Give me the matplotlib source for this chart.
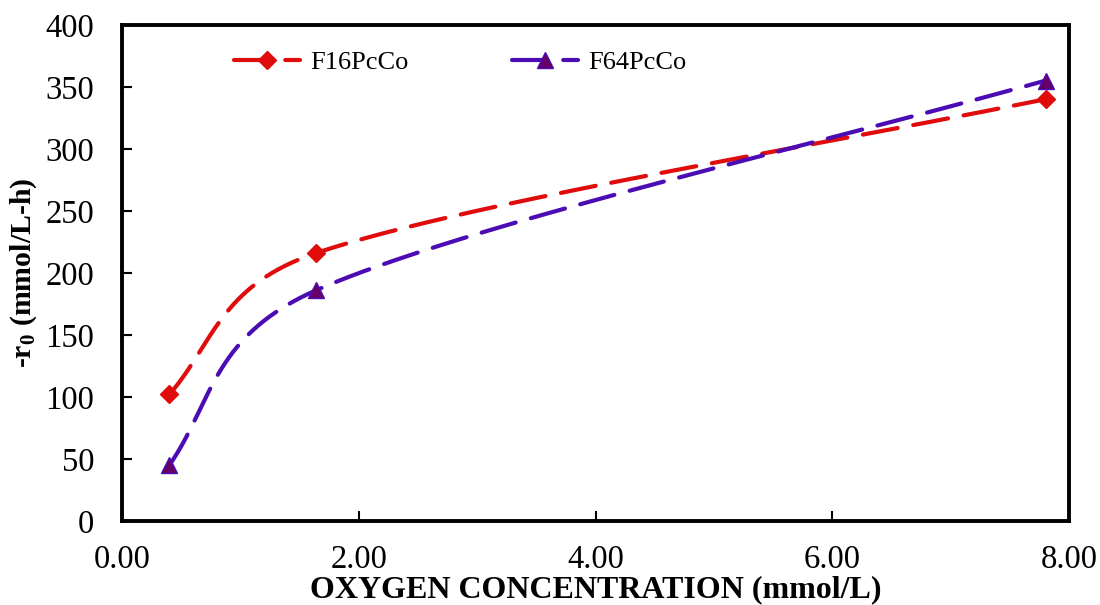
import numpy as np
import matplotlib
matplotlib.use("Agg")
import matplotlib.pyplot as plt

# ---- data ----
oxygen = [0.40, 1.64, 7.80]
f16 = [102, 216, 340]
f64 = [45, 186, 355]
series_names = ["F16PcCo", "F64PcCo"]
x_ticks = [0, 2, 4, 6, 8]
y_ticks = [0, 50, 100, 150, 200, 250, 300, 350, 400]

plt.rcParams['font.family'] = ['Liberation Serif', 'DejaVu Serif']
plt.rcParams['mathtext.fontset'] = 'custom'
plt.rcParams['mathtext.rm'] = 'Liberation Serif'
plt.rcParams['mathtext.bf'] = 'Liberation Serif:bold'
plt.rcParams['mathtext.it'] = 'Liberation Serif:italic'

fig = plt.figure(figsize=(11, 6.05), dpi=100)
ax = fig.add_axes([0.111, 0.139, 0.861, 0.820])
ax.set_xlim(0, 8)
ax.set_ylim(0, 400)


def unit(v):
    return v / np.linalg.norm(v)


def smooth(ax, xs, ys, n=200):
    # Excel-like Bezier smoothing computed in display space
    pts = ax.transData.transform(np.column_stack([xs, ys]))
    N = len(pts)
    arms_out = []
    arms_in = []
    for i in range(N - 1):
        p1, p2 = pts[i], pts[i + 1]
        seg_len = np.linalg.norm(p2 - p1)
        if i > 0:
            a1 = (p2 - pts[i - 1]) / 6.0
            if np.linalg.norm(a1) > seg_len / 2:
                a1 = unit(a1) * seg_len / 2
        else:
            a1 = None
        if i + 2 < N:
            a2 = (pts[i + 2] - p1) / 6.0
            if np.linalg.norm(a2) > seg_len / 2:
                a2 = unit(a2) * seg_len / 2
        else:
            a2 = None
        if a1 is None:
            b2 = p2 - a2 if a2 is not None else p2 - (p2 - p1) / 3
            d = unit(0.75 * unit(p2 - p1) + 0.25 * unit(b2 - p1))
            a1 = d * seg_len / 3
        if a2 is None:
            b1 = p1 + a1
            d = unit(0.75 * unit(p2 - p1) + 0.25 * unit(p2 - b1))
            a2 = d * seg_len / 3
        arms_out.append(a1)
        arms_in.append(a2)
    out = []
    t = np.linspace(0, 1, n)[:, None]
    for i in range(N - 1):
        p1, p2 = pts[i], pts[i + 1]
        b1 = p1 + arms_out[i]
        b2 = p2 - arms_in[i]
        seg = ((1 - t) ** 3) * p1 + 3 * ((1 - t) ** 2) * t * b1 + 3 * (1 - t) * t ** 2 * b2 + t ** 3 * p2
        out.append(seg if i == 0 else seg[1:])
    out = np.vstack(out)
    return ax.transData.inverted().transform(out)

red = '#E00B0B'
purple = '#4B0CB4'
tri_face = '#660066'

fig.canvas.draw()
for ys, col, mk, mface, mec, ms, name in [
        (f16, red, 'D', red, red, 9, series_names[0]),
        (f64, purple, '^', tri_face, purple, 11, series_names[1])]:
    curve = smooth(ax, oxygen, ys)
    ax.plot(curve[:, 0], curve[:, 1], color=col, lw=3.0, dashes=(8.5, 3.8),
            dash_capstyle='round', solid_capstyle='round', zorder=3)
    ax.plot(oxygen, ys, linestyle='none', marker=mk, markersize=ms,
            markerfacecolor=mface, markeredgecolor=mec, zorder=4)
    ax.plot([], [], color=col, lw=3.0, dashes=(8.5, 3.8), dash_capstyle='round',
            marker=mk, markersize=ms, markerfacecolor=mface, markeredgecolor=mec,
            label=name)

ax.set_xticks(x_ticks)
ax.set_xticklabels([f"{v:.2f}" for v in x_ticks])
ax.set_yticks(y_ticks)
ax.set_yticklabels([str(v) for v in y_ticks])
ax.tick_params(axis='both', direction='in', length=7, width=1.5, labelsize=23.5)
ax.tick_params(axis='y', pad=20)
ax.tick_params(axis='x', pad=17)
for s in ax.spines.values():
    s.set_linewidth(2.8)

ax.set_xlabel("OXYGEN CONCENTRATION (mmol/L)", fontsize=23, fontweight='bold', labelpad=0)
ax.set_ylabel(r"-r$_\mathbf{0}$ (mmol/L-h)", fontsize=21.5, fontweight='bold', labelpad=5)

leg = ax.legend(loc='center left', bbox_to_anchor=(0.118, 0.925), ncol=2, frameon=False,
                fontsize=19, handlelength=2.5, handletextpad=0.4, columnspacing=3.9,
                borderaxespad=0, borderpad=0)

fig.savefig('out.png', dpi=100)
